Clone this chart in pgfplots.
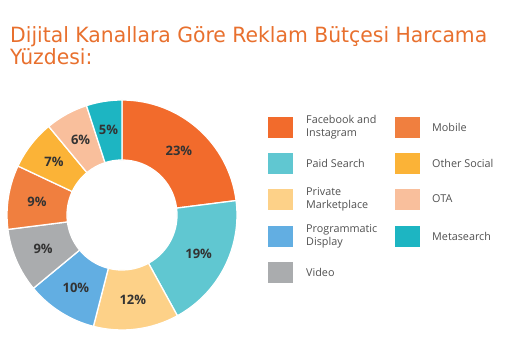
\documentclass[border=0pt]{standalone}
\usepackage{pgfplots}
\pgfplotsset{compat=1.18}
\usepackage{graphicx}
\usepackage{fontspec}
\setmainfont{DejaVu Sans}
\newfontfamily\legfont{Open Sans}
\newfontfamily\labfont{Open Sans}
\definecolor{cFB}{HTML}{F26B2C}
\definecolor{cPS}{HTML}{60C7D1}
\definecolor{cPM}{HTML}{FDD188}
\definecolor{cPD}{HTML}{62AEE2}
\definecolor{cVI}{HTML}{AAACAE}
\definecolor{cMO}{HTML}{F07F3F}
\definecolor{cOS}{HTML}{FBB337}
\definecolor{cOT}{HTML}{F9BF9C}
\definecolor{cMS}{HTML}{1DB5C2}
\definecolor{titlec}{HTML}{E8702E}
\definecolor{labc}{HTML}{333333}
\definecolor{legc}{HTML}{505050}
% start (cumulative %), value (%), colour
\newcommand\slice[3]{%
  \fill[#3, draw=white, line width=1.3pt]
    (axis cs:{115*cos(90-3.6*#1)},{115*sin(90-3.6*#1)})
    arc[start angle={90-3.6*#1}, end angle={90-3.6*(#1+#2)}, radius=115pt]
    -- (axis cs:{55*cos(90-3.6*(#1+#2))},{55*sin(90-3.6*(#1+#2))})
    arc[start angle={90-3.6*(#1+#2)}, end angle={90-3.6*#1}, radius=55pt]
    -- cycle;
  \node[font=\labfont\bfseries\fontsize{13}{13}\selectfont, text=labc]
    at (axis cs:{86*cos(90-3.6*(#1+#2/2))},{86*sin(90-3.6*(#1+#2/2))}) {#2\%};
}
\begin{document}
\begin{tikzpicture}
\path[use as bounding box] (0,0) rectangle (511pt,358pt);
% title
\node[anchor=base west, inner sep=0pt, text=titlec, font=\fontsize{21}{19.7}\selectfont] at (10pt,315pt)
  {\resizebox{477pt}{\height}{\begin{tabular}[t]{@{}l@{}}Dijital Kanallara Göre Reklam Bütçesi Harcama\\Yüzdesi:\end{tabular}}};
\begin{axis}[
  x=1pt, y=1pt, xmin=-120, xmax=120, ymin=-120, ymax=120,
  hide axis, anchor=origin, at={(122pt,143pt)}, clip=false]
\slice{0}{23}{cFB}
\slice{23}{19}{cPS}
\slice{42}{12}{cPM}
\slice{54}{10}{cPD}
\slice{64}{9}{cVI}
\slice{73}{9}{cMO}
\slice{82}{7}{cOS}
\slice{89}{6}{cOT}
\slice{95}{5}{cMS}
\end{axis}
% legend
\begin{scope}[every node/.style={anchor=west, inner sep=0pt, align=left, text=legc, font=\legfont\fontsize{10.8}{13}\selectfont}]
\fill[cFB] (268pt,220pt) rectangle ++(25pt,21pt); \node at (306pt,231pt) {Facebook and\\Instagram};
\fill[cPS] (268pt,184pt) rectangle ++(25pt,21pt); \node at (306pt,195pt) {Paid Search};
\fill[cPM] (268pt,148pt) rectangle ++(25pt,21pt); \node at (306pt,159pt) {Private\\Marketplace};
\fill[cPD] (268pt,111pt) rectangle ++(25pt,21pt); \node at (306pt,122pt) {Programmatic\\Display};
\fill[cVI] (268pt,75pt) rectangle ++(25pt,21pt); \node at (306pt,86pt) {Video};
\fill[cMO] (395pt,220pt) rectangle ++(25pt,21pt); \node at (432pt,231pt) {Mobile};
\fill[cOS] (395pt,184pt) rectangle ++(25pt,21pt); \node at (432pt,195pt) {Other Social};
\fill[cOT] (395pt,148pt) rectangle ++(25pt,21pt); \node at (432pt,159pt) {OTA};
\fill[cMS] (395pt,111pt) rectangle ++(25pt,21pt); \node at (432pt,122pt) {Metasearch};
\end{scope}
\end{tikzpicture}
\end{document}
